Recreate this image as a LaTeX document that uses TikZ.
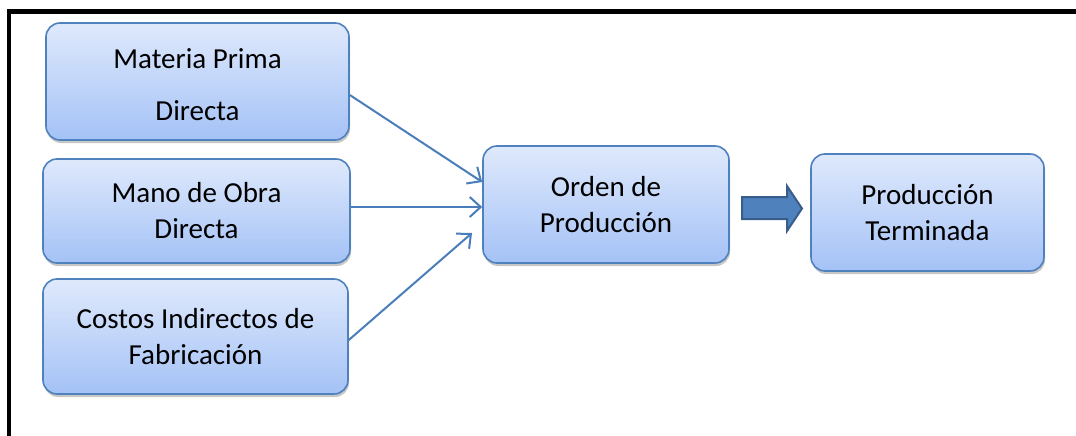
\documentclass[tikz,border=0pt]{standalone}
\usepackage{fontspec}
\setmainfont{Carlito}
\usetikzlibrary{arrows.meta,shadows}
\definecolor{boxline}{RGB}{79,129,189}
\definecolor{boxtop}{RGB}{223,233,252}
\definecolor{boxbot}{RGB}{164,194,246}
\definecolor{arrowcol}{RGB}{74,126,187}
\definecolor{blockfill}{RGB}{79,129,189}
\definecolor{blockline}{RGB}{56,93,138}
\tikzset{
  boxtext/.style={align=center, font=\fontsize{29}{36}\selectfont, inner sep=0pt},
  box/.style={boxtext, draw=boxline, line width=1.6pt, rounded corners=14pt,
    top color=boxtop, bottom color=boxbot,
    drop shadow={shadow xshift=1pt, shadow yshift=-3pt, opacity=0.22, fill=black}},
  link/.style={draw=arrowcol, line width=2pt,
    -{Straight Barb[length=11pt,width=20pt,line width=2pt]}},
  frame/.style={line width=4.5pt, black}
}
\begin{document}
\begin{tikzpicture}[x=1pt,y=-1pt]
\useasboundingbox (0,0) rectangle (1076,436);
\draw[frame] (9,438) -- (9,11.5) -- (1078,11.5);
\node[box, minimum width=303pt, minimum height=117pt] (mp) at (197.5,81.5) {};
\node[boxtext] (mptext) at (197.5,84.5) {Materia Prima\\[16pt]Directa};
\node[box, minimum width=307pt, minimum height=104pt] (mo) at (196.5,211) {Mano de Obra\\Directa};
\node[box, minimum width=305pt, minimum height=115pt] (ci) at (195.5,336.5) {Costos Indirectos de\\Fabricación};
\node[box, minimum width=246pt, minimum height=117pt] (op) at (606,204.5) {Orden de\\Producción};
\node[box, minimum width=233pt, minimum height=117pt] (pt) at (927.5,212.5) {Producción\\Terminada};
\coordinate (t3) at (472,233);
\draw[link] (mp.east |- 0,95) -- (op.west |- 0,182);
\draw[link] (mo.east |- 0,207) -- (op.west |- 0,207);
\draw[link] (ci.east |- 0,340) -- (t3);
\draw[fill=blockfill, draw=blockline, line width=2pt, line join=miter]
  (742,197) -- (787,197) -- (787,186) -- (802,208.5) -- (787,231) -- (787,219) -- (742,219) -- cycle;
\end{tikzpicture}
\end{document}
